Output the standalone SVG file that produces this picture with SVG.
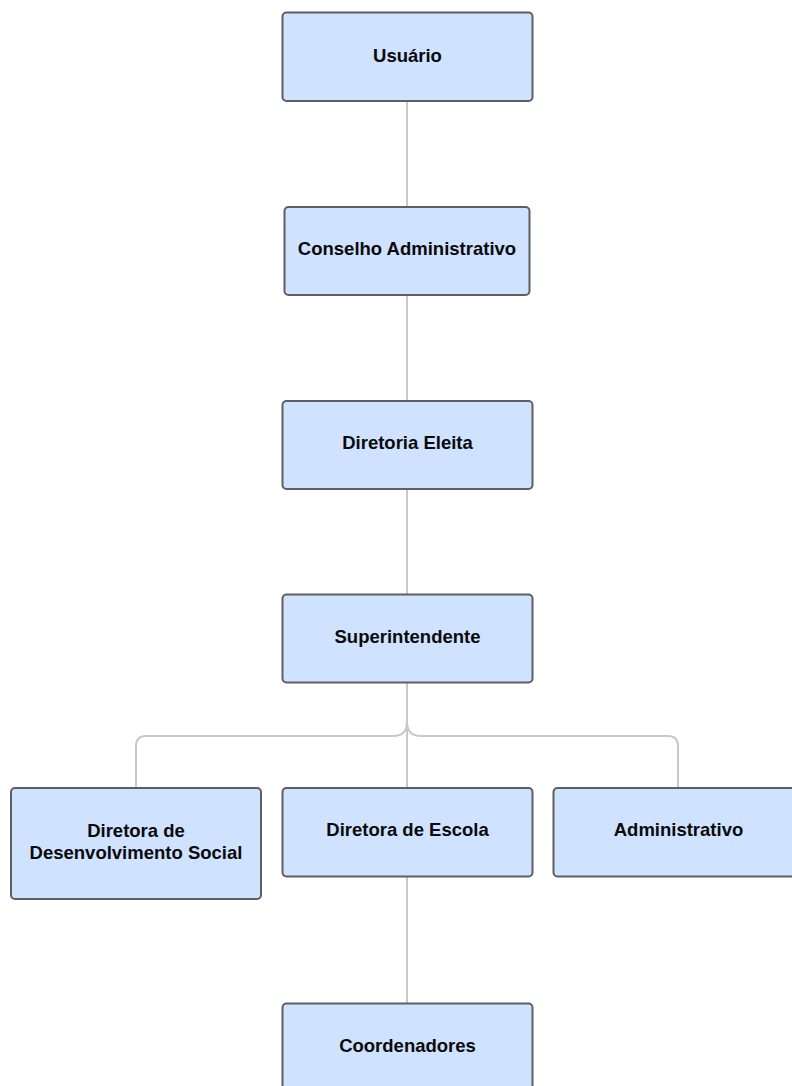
<svg xmlns="http://www.w3.org/2000/svg" width="792" height="1086" viewBox="0 0 792 1086">
<style>
.box{fill:#cfe2ff;stroke:#5f5f5f;stroke-width:2}
.lbl{font-family:"Liberation Sans",Arial,sans-serif;font-weight:bold;font-size:18.5px;fill:#0a0a0a;text-anchor:middle}
.con{fill:none;stroke:#c8c8c8;stroke-width:2}
</style>
<rect width="792" height="1086" fill="#ffffff"/>
<g id="connectors">
<path class="con" d="M407,101 V207"/>
<path class="con" d="M407,295 V401"/>
<path class="con" d="M407,489 V594"/>
<path class="con" d="M407,683 V788"/>
<path class="con" d="M407,722 Q407,736 393,736 H146 Q136,736 136,746 V788"/>
<path class="con" d="M407,722 Q407,736 421,736 H668 Q678,736 678,746 V788"/>
<path class="con" d="M407,877 V1003"/>
</g>
<g id="usuario">
<rect class="box" x="282.5" y="12.5" width="250" height="88.5" rx="4"/>
<text class="lbl" x="407.5" y="61.5">Usuário</text>
</g>
<g id="conselho">
<rect class="box" x="284.5" y="207" width="245" height="88" rx="4"/>
<text class="lbl" x="407" y="255">Conselho Administrativo</text>
</g>
<g id="diretoria-eleita">
<rect class="box" x="282.5" y="401" width="250" height="88" rx="4"/>
<text class="lbl" x="407.5" y="449">Diretoria Eleita</text>
</g>
<g id="superintendente">
<rect class="box" x="282.5" y="594.5" width="250" height="88" rx="4"/>
<text class="lbl" x="407.5" y="642.5">Superintendente</text>
</g>
<g id="diretora-desenvolvimento">
<rect class="box" x="11" y="788" width="250" height="111" rx="4"/>
<text class="lbl" x="136" y="836.5">Diretora de</text>
<text class="lbl" x="136" y="859">Desenvolvimento Social</text>
</g>
<g id="diretora-escola">
<rect class="box" x="282.5" y="788" width="250" height="88.5" rx="4"/>
<text class="lbl" x="407.5" y="836">Diretora de Escola</text>
</g>
<g id="administrativo">
<rect class="box" x="553.5" y="788" width="250" height="88.5" rx="4"/>
<text class="lbl" x="678.5" y="836">Administrativo</text>
</g>
<g id="coordenadores">
<rect class="box" x="282.5" y="1003.5" width="250" height="88.5" rx="4"/>
<text class="lbl" x="407.5" y="1051.5">Coordenadores</text>
</g>
</svg>
